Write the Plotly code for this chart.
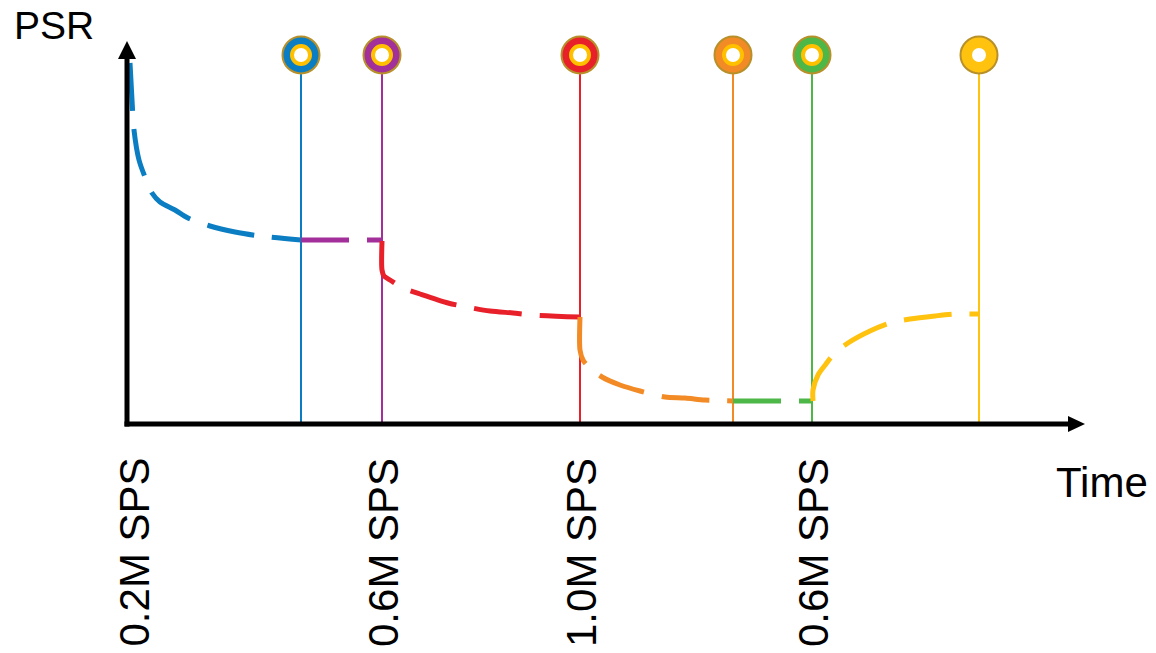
import plotly.graph_objects as go

# ---- data (arbitrary time / PSR units) ----
event_times = [17.4, 25.5, 45.3, 60.6, 68.5, 85.2]
event_colors = ["#0B7DC3", "#A22F9A", "#E8202A", "#F28A25", "#4DB848", "#FFC20E"]
marker_level = 36.9

blue_t = [0.3, 0.5, 0.7, 1.2, 1.8, 2.5, 3.3, 4.8, 6.1, 8.3, 10.8, 13.3, 17.4]
blue_v = [36.1, 32.4, 29.4, 26.4, 24.7, 23.1, 22.2, 21.4, 20.6, 19.8, 19.2, 18.8, 18.4]

purple_t = [17.4, 25.5]
purple_v = [18.4, 18.4]

red_t = [25.5, 25.5, 25.7, 26.3, 27.6, 29.3, 32.1, 34.0, 36.3, 38.6, 40.6, 45.3]
red_v = [18.3, 15.4, 14.8, 14.4, 13.6, 13.0, 12.1, 11.7, 11.3, 11.1, 10.9, 10.7]

orange_t = [45.3, 45.3, 45.6, 46.3, 47.5, 49.3, 51.3, 53.8, 55.8, 57.8, 60.6]
orange_v = [10.7, 7.4, 6.4, 5.6, 4.7, 3.9, 3.3, 2.7, 2.6, 2.4, 2.3]

green_t = [60.6, 68.5]
green_v = [2.3, 2.3]

yellow_t = [68.6, 68.6, 69.1, 69.9, 70.6, 72.1, 74.3, 76.3, 78.3, 80.8, 83.0, 85.2]
yellow_v = [2.3, 3.4, 4.9, 6.0, 6.9, 8.1, 9.3, 10.1, 10.5, 10.8, 11.0, 11.0]

tick_times = [0, 25.5, 45.3, 68.5]
tick_labels = ["0.2M SPS", "0.6M SPS", "1.0M SPS", "0.6M SPS"]

x_range = [-1.5, 97.3]
y_range = [-1.5, 39.9]
x_tip = 95.8
y_tip = 38.3

FONT = "Liberation Sans, Arial, sans-serif"


def px(t):
    return (t - x_range[0]) / (x_range[1] - x_range[0])


def py(v):
    return (v - y_range[0]) / (y_range[1] - y_range[0])


fig = go.Figure()

# vertical event lines
for t, c in zip(event_times, event_colors):
    fig.add_trace(go.Scatter(x=[t, t], y=[0, marker_level], mode="lines",
                             line=dict(color=c, width=2), hoverinfo="skip",
                             showlegend=False))

# curves
segments = [
    (blue_t, blue_v, event_colors[0]),
    (purple_t, purple_v, event_colors[1]),
    (red_t, red_v, event_colors[2]),
    (orange_t, orange_v, event_colors[3]),
    (green_t, green_v, event_colors[4]),
    (yellow_t, yellow_v, event_colors[5]),
]
for xs, ys, c in segments:
    fig.add_trace(go.Scatter(x=xs, y=ys, mode="lines",
                             line=dict(color=c, width=5, dash="48px,18px",
                                       shape="spline", smoothing=0.8),
                             hoverinfo="skip", showlegend=False))

# top markers (ring style)
fig.add_trace(go.Scatter(x=event_times, y=[marker_level] * len(event_times),
                         mode="markers", cliponaxis=False,
                         marker=dict(size=37, color=event_colors,
                                     line=dict(color="#B8902A", width=2)),
                         hoverinfo="skip", showlegend=False))
inner_line = ["#FFC000"] * (len(event_times) - 1) + [event_colors[-1]]
fig.add_trace(go.Scatter(x=event_times, y=[marker_level] * len(event_times),
                         mode="markers", cliponaxis=False,
                         marker=dict(size=18, color="white",
                                     line=dict(color=inner_line, width=4)),
                         hoverinfo="skip", showlegend=False))

# axes with arrows
shapes = [
    dict(type="line", xref="x", yref="y", x0=0, x1=0, y0=-0.25, y1=y_tip - 1.6,
         line=dict(color="black", width=5)),
    dict(type="path", xref="x", yref="y",
         path=f"M -0.9 {y_tip - 1.8} L 0 {y_tip} L 0.9 {y_tip - 1.8} Z",
         fillcolor="black", line=dict(color="black", width=0)),
    dict(type="line", xref="x", yref="y", x0=-0.25, x1=x_tip - 1.5, y0=0, y1=0,
         line=dict(color="black", width=5)),
    dict(type="path", xref="x", yref="y",
         path=f"M {x_tip - 1.7} 0.8 L {x_tip} 0 L {x_tip - 1.7} -0.8 Z",
         fillcolor="black", line=dict(color="black", width=0)),
]

annotations = [
    dict(x=px(-7.3), y=py(39.9), xref="paper", yref="paper", text="PSR",
         showarrow=False, xanchor="center", yanchor="middle", borderpad=0,
         font=dict(family=FONT, size=39, color="black")),
    dict(x=px(97.45), y=py(-5.8), xref="paper", yref="paper", text="Time",
         showarrow=False, xanchor="center", yanchor="middle",
         font=dict(family=FONT, size=42, color="black")),
]
for i, (t, lab) in enumerate(zip(tick_times, tick_labels)):
    annotations.append(dict(x=px(t), y=py(-3.3), xref="paper", yref="paper",
                            text=lab, showarrow=False, textangle=-90,
                            xanchor="center", yanchor="top", borderpad=0,
                            xshift=7 if i == 0 else 1.5,
                            font=dict(family=FONT, size=42, color="black")))

fig.update_layout(
    width=1156, height=653,
    margin=dict(l=112, r=56, t=25, b=214),
    paper_bgcolor="white", plot_bgcolor="white",
    xaxis=dict(range=x_range, visible=False, fixedrange=True),
    yaxis=dict(range=y_range, visible=False, fixedrange=True),
    shapes=shapes, annotations=annotations,
)

# remove the browser's default 8px body margin so the figure sits at (0, 0)
fig.write_html("out.html",
               config={"displayModeBar": False, "staticPlot": True},
               post_script="document.body.style.margin='0px';"
                           "document.body.style.overflow='hidden';")
